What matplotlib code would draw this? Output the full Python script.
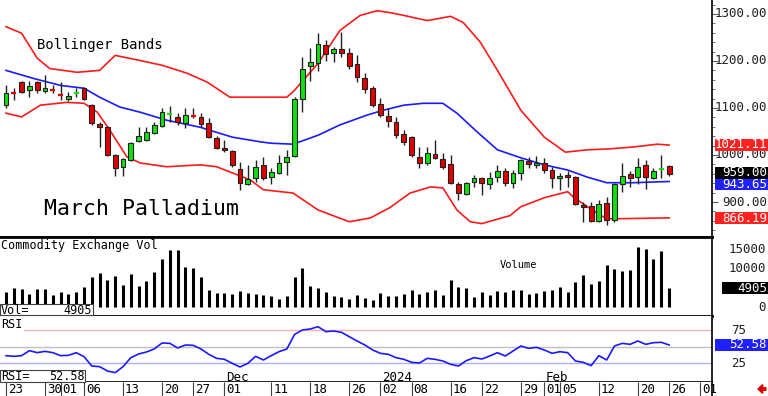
import matplotlib
matplotlib.use("Agg")
import matplotlib.pyplot as plt
from matplotlib.patches import Rectangle, FancyArrow
from matplotlib.ticker import MultipleLocator

# trading days Oct 23 2023 .. Feb 26 2024, index 0..85
opens = [1106, 1132, 1155, 1138, 1155, 1136, 1140, 1129, 1119, 1130,
         1142, 1106, 1066, 1059, 1000, 975, 989, 1030, 1032, 1047,
         1061, 1087, 1081, 1068, 1085, 1081, 1068, 1036, 1015, 1008,
         970, 939, 951, 979, 953, 962, 985, 998, 1119, 1189,
         1195, 1235, 1218, 1225, 1218, 1193, 1163, 1142, 1108, 1083,
         1070, 1045, 1038, 996, 983, 1002, 992, 981, 939, 917,
         943, 951, 939, 953, 966, 941, 962, 987, 979, 983,
         968, 951, 958, 953, 894, 892, 860, 898, 862, 939,
         960, 953, 979, 951, 970, 977]
highs = [1148, 1142, 1157, 1157, 1157, 1170, 1148, 1155, 1134, 1142,
         1144, 1108, 1070, 1061, 1002, 994, 1028, 1059, 1059, 1070,
         1100, 1104, 1089, 1100, 1100, 1089, 1078, 1040, 1032, 1011,
         985, 979, 989, 996, 972, 1000, 1011, 1123, 1208, 1227,
         1259, 1244, 1229, 1261, 1227, 1212, 1174, 1146, 1121, 1100,
         1081, 1053, 1040, 1017, 1017, 1032, 1004, 1000, 943, 943,
         958, 953, 964, 979, 972, 968, 992, 996, 998, 994,
         975, 962, 966, 955, 900, 900, 905, 911, 941, 983,
         966, 994, 989, 972, 1000, 979]
lows = [1100, 1117, 1132, 1123, 1131, 1131, 1131, 1117, 1114, 1123,
        1117, 1064, 1017, 998, 955, 955, 987, 1028, 1030, 1045,
        1059, 1070, 1064, 1057, 1078, 1059, 1036, 1013, 1006, 975,
        926, 936, 943, 947, 939, 960, 958, 996, 1091, 1157,
        1178, 1201, 1197, 1208, 1184, 1155, 1131, 1102, 1081, 1059,
        1036, 1021, 996, 972, 979, 992, 970, 939, 905, 915,
        932, 915, 928, 943, 934, 930, 947, 972, 972, 962,
        930, 926, 932, 894, 858, 858, 858, 852, 858, 922,
        932, 939, 928, 949, 951, 955]
closes = [1131, 1130, 1134, 1146, 1138, 1142, 1138, 1127, 1125, 1132,
          1119, 1068, 1059, 1000, 972, 992, 1025, 1040, 1049, 1064,
          1091, 1089, 1070, 1085, 1083, 1066, 1038, 1015, 1011, 979,
          941, 949, 975, 951, 964, 983, 996, 1119, 1184, 1197,
          1237, 1214, 1225, 1218, 1189, 1165, 1140, 1106, 1085, 1072,
          1042, 1028, 1000, 983, 1004, 994, 975, 941, 919, 941,
          951, 941, 951, 966, 941, 962, 989, 981, 983, 968,
          951, 956, 953, 896, 890, 860, 896, 862, 939, 956,
          951, 975, 953, 966, 972, 959]

volume = [3920, 4950, 4700, 3480, 4700, 4700, 3230, 3920, 3400, 3830,
          5200, 7700, 8800, 7100, 7950, 5800, 8560, 5550, 6660, 9080,
          12430, 14830, 14660, 10270, 10100, 7870, 4520, 3660, 3660, 3400,
          4260, 3660, 3400, 3230, 2970, 2190, 2970, 7700, 10100, 5550,
          4950, 3920, 2970, 2710, 2110, 3230, 2370, 1940, 3660, 2970,
          2970, 3480, 4520, 3480, 3830, 4520, 3060, 7100, 5110, 4950,
          2620, 4080, 3230, 4260, 4080, 4520, 4520, 3400, 3660, 4260,
          4520, 5200, 3920, 6500, 8200, 5980, 6660, 10960, 9930, 9420,
          9680, 15530, 15090, 12430, 14400, 4905]

rsi = [36.5, 35.5, 36.5, 44, 41, 43, 41, 36.5, 37, 41,
       35, 21, 20, 13.5, 11, 20, 33.5, 39, 42, 46.5,
       55.5, 55, 48, 52.5, 52, 46.5, 38.5, 32.5, 31, 25,
       19.5, 25, 35.5, 30, 36.5, 42.5, 46.5, 68.5, 75, 76.5,
       80, 72.5, 73.5, 71.5, 65, 58.5, 52.5, 45, 40, 38.5,
       33.5, 31, 26.5, 25.5, 32.5, 31, 28.5, 23.5, 21, 29,
       33.5, 31.5, 36, 41, 36, 43.5, 51, 47.5, 49, 45,
       40, 42.5, 41, 28.5, 26.5, 21.5, 36.5, 30, 51, 55,
       53.5, 58.5, 53.5, 56, 56.5, 52.58]

# bollinger band lines (bar index, price)
upper_x = [0, 2, 4, 5.6, 9.1, 12, 14, 17.2, 20, 23.2, 25.8, 28.7, 32.6, 36, 37, 40,
           42.8, 45.4, 47.6, 49.2, 51, 54, 57, 58.6, 60.8, 63, 66, 69, 71.7, 74.5,
           77.4, 80.4, 83.5, 85]
upper_y = [1273, 1259, 1206, 1184, 1176, 1180, 1212, 1201, 1191, 1174, 1155, 1123, 1123,
           1123, 1138, 1195, 1265, 1297, 1307, 1303, 1297, 1286, 1295, 1282, 1240, 1180,
           1095, 1038, 1006, 1011, 1013, 1017, 1023, 1021.11]
mid_x = [0, 3.5, 7, 10, 12, 14.6, 17.2, 20.6, 24.9, 29, 32.6, 34, 36.8, 40, 42.8,
         46.3, 48.3, 51, 53.5, 56, 57.8, 60.4, 63, 66, 69, 72, 74.5, 77, 80.4, 85]
mid_y = [1180, 1163, 1148, 1142, 1123, 1102, 1091, 1074, 1059, 1038, 1028, 1025, 1023,
         1042, 1064, 1085, 1095, 1106, 1110, 1110, 1089, 1049, 1011, 994, 979, 968,
         953, 941, 941, 943.65]
lower_x = [0, 2, 4.4, 7.8, 10, 11.7, 13.3, 15.5, 17.2, 20.6, 24.9, 27, 29, 31.3, 33,
           36.8, 40, 44, 46.7, 49.2, 51.8, 54.4, 56, 57.8, 59.5, 61, 64.6, 66, 69, 72,
           72.7, 74.5, 77, 85]
lower_y = [1089, 1081, 1106, 1112, 1110, 1091, 1053, 996, 983, 975, 979, 975, 962, 947,
           926, 919, 883, 858, 866, 888, 919, 932, 930, 883, 858, 854, 871, 890, 909,
           922, 911, 890, 864, 866.19]

tick_idx = [0, 5, 7, 10, 15, 20, 24, 28, 34, 39, 44, 48, 52, 57, 61, 66, 69, 71, 76, 81, 85, 89]
tick_lbl = ["23", "30", "01", "06", "13", "20", "27", "01", "11", "18", "26",
            "02", "08", "16", "22", "29", "01", "05", "12", "20", "26", "01"]
month_idx = [28, 48, 69]
month_lbl = ["Dec", "2024", "Feb"]

W, H = 768, 396
mono = "DejaVu Sans Mono"
plt.rcParams["font.family"] = mono


def fx(x):
    return x / W


def fy(y):
    return 1 - y / H


fig = plt.figure(figsize=(7.68, 3.96), dpi=100)
right = fx(712)
xlim = (-0.77, 90.5)

ax = fig.add_axes([0, fy(237), right, fy(0) - fy(237)])
axv = fig.add_axes([0, fy(316), right, fy(237) - fy(316)])
axr = fig.add_axes([0, fy(382), right, fy(316) - fy(382)])
axd = fig.add_axes([0, 0, right, fy(382)])

for a in (ax, axv, axr, axd):
    a.set_xlim(*xlim)
    a.set_xticks([])
    a.set_yticks([])
    for s in a.spines.values():
        s.set_visible(False)
    a.spines["right"].set_visible(True)
    a.spines["right"].set_linewidth(1.2)

# --- price panel ---
green = "#10e010"
red = "#e00000"
w = 0.62
for i in range(len(opens)):
    o, h, l, c = opens[i], highs[i], lows[i], closes[i]
    col = green if c >= o else red
    ax.vlines(i, l, h, color="#202020", lw=1.0, zorder=3)
    if abs(c - o) < 3:
        ax.hlines((o + c) / 2, i - w / 2, i + w / 2, color=col, lw=1.6, zorder=4)
    else:
        ax.add_patch(Rectangle((i - w / 2, min(o, c)), w, abs(c - o),
                               facecolor=col, edgecolor="#202020", lw=0.8, zorder=4))

ax.plot(upper_x, upper_y, color="#ff1a1a", lw=1.2, zorder=2)
ax.plot(lower_x, lower_y, color="#ff1a1a", lw=1.2, zorder=2)
ax.plot(mid_x, mid_y, color="#1a1aff", lw=1.2, zorder=2)
ax.set_ylim(825.5, 1329.8)
ax.spines["bottom"].set_visible(True)
ax.spines["bottom"].set_linewidth(2)
ax.yaxis.set_major_locator(MultipleLocator(100))
ax.yaxis.set_minor_locator(MultipleLocator(20))
ax.tick_params(axis="y", which="both", left=False, right=True, labelleft=False,
               labelright=False, direction="out", color="#606060")
ax.tick_params(axis="y", which="major", length=4)
ax.tick_params(axis="y", which="minor", length=2.5)

fig.text(fx(37), fy(45), "Bollinger Bands", fontsize=10, va="center")
fig.text(fx(44), fy(209), "March Palladium", fontsize=15.5, va="center")

for v in [1300, 1200, 1100, 1000, 900]:
    fig.text(fx(767), fy(155 - (v - 1000) * 0.4717), "%.2f" % v,
             fontsize=9, ha="right", va="center", color="#202020")


def tag(y, text, color, x0=715, size=9):
    fig.patches.append(Rectangle((fx(x0), fy(y + 6)), fx(768 - x0), fy(0) - fy(12),
                                 transform=fig.transFigure, facecolor=color,
                                 edgecolor="none", zorder=5))
    fig.text(fx(767), fy(y), text, fontsize=size, ha="right", va="center",
             color="white", zorder=6)


tag(145, "1021.11", "#ff2020")
tag(184, "943.65", "#2020ff")
tag(173, "959.00", "#000000")
tag(218, "866.19", "#ff2020")

# --- volume panel ---
axv.vlines(range(len(volume)), 0, volume, color="black", lw=2.2)
axv.set_ylim(-2190, 18040)
axv.spines["top"].set_visible(True)
axv.spines["top"].set_linewidth(2)
axv.spines["bottom"].set_visible(True)
axv.spines["bottom"].set_linewidth(2)
fig.text(fx(1), fy(245), "Commodity Exchange Vol", fontsize=8.5, va="center")
fig.text(fx(500), fy(265), "Volume", fontsize=7.5, va="center")
fig.patches.append(Rectangle((0, fy(315)), fx(93), fy(304) - fy(315),
                             transform=fig.transFigure, facecolor="white",
                             edgecolor="#404040", lw=0.8, zorder=5))
fig.text(fx(1), fy(310), "Vol=", fontsize=8.5, va="center", zorder=6)
fig.text(fx(92), fy(310), "4905", fontsize=8.5, va="center", ha="right", zorder=6)
for v, lab in [(15000, "15000"), (10000, "10000"), (0, "0")]:
    fig.text(fx(766), fy(307.5 - v / 257.7), lab, fontsize=9, ha="right",
             va="center", color="#202020")
tag(288, "4905", "#000000", x0=722)

# --- RSI panel ---
axr.axhline(75, color="#ffb0b0", lw=1.0)
axr.axhline(50, color="#c0c0c0", lw=1.0)
axr.axhline(25, color="#b0b0ff", lw=1.0)
axr.plot(range(len(rsi)), rsi, color="#1a1aff", lw=1.2)
axr.set_ylim(-3, 96)
axr.spines["bottom"].set_visible(True)
axr.spines["bottom"].set_linewidth(1.2)
fig.text(fx(1), fy(325), "RSI", fontsize=8.5, va="center",
         bbox=dict(facecolor="white", edgecolor="none", pad=1))
fig.patches.append(Rectangle((0, fy(382)), fx(85), fy(370) - fy(382),
                             transform=fig.transFigure, facecolor="white",
                             edgecolor="#404040", lw=0.8, zorder=5))
fig.text(fx(1), fy(376), "RSI=", fontsize=8.5, va="center", zorder=6)
fig.text(fx(85), fy(376), "52.58", fontsize=8.5, va="center", ha="right", zorder=6)
for v in [75, 25]:
    fig.text(fx(731), fy(346.7 - (v - 50) * 0.666), str(v), fontsize=9,
             va="center", color="#202020")
tag(345, "52.58", "#2020ff")

for i, lab in zip(month_idx, month_lbl):
    axr.text(i + 0.2, 4, lab, fontsize=9, va="center", ha="left")

# --- date strip ---
axd.set_ylim(0, 1)
axd.vlines(tick_idx, 0, 1, color="#404040", lw=0.8)
for i, lab in zip(tick_idx, tick_lbl):
    axd.text(i + 0.25, 0.45, lab, fontsize=9, va="center", ha="left")

fig.patches.append(FancyArrow(fx(766), fy(389), -fx(8), 0, width=0.006,
                              head_width=0.022, head_length=0.006,
                              transform=fig.transFigure, color="#e00000",
                              length_includes_head=True))

fig.savefig("out.png", dpi=100)
